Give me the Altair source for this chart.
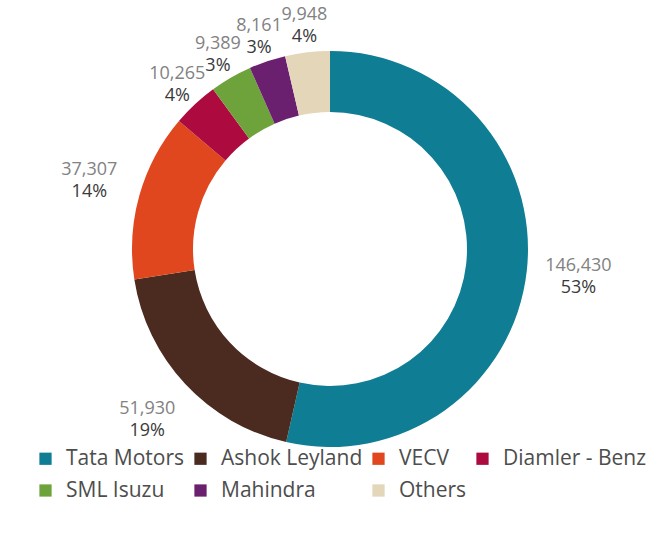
import altair as alt
import pandas as pd

companies = ["Tata Motors", "Ashok Leyland", "VECV", "Diamler - Benz",
             "SML Isuzu", "Mahindra", "Others"]
units = [146430, 51930, 37307, 10265, 9389, 8161, 9948]
share_labels = ["53%", "19%", "14%", "4%", "3%", "3%", "4%"]
colors = ["#0F7D93", "#4B2A20", "#E0471F", "#AD0B40",
          "#6EA33B", "#6A1F6F", "#E3D6B9"]

df = pd.DataFrame({
    "company": companies,
    "units": units,
    "share": share_labels,
    "idx": list(range(len(companies))),
})

color = alt.Color(
    "company:N",
    scale=alt.Scale(domain=companies, range=colors),
    sort=companies,
    legend=alt.Legend(
        title=None, orient="none", legendX=35, legendY=448,
        direction="horizontal", columns=4, symbolType="square",
        symbolSize=150, symbolStrokeWidth=0, labelFont="Open Sans",
        labelFontSize=21, labelColor="#4d4d4d", columnPadding=5,
        rowPadding=10, labelOffset=10, padding=0,
    ),
)

arcs = alt.Chart(df).mark_arc(radius=198, radius2=137).encode(
    theta=alt.Theta("units:Q", stack=True),
    order=alt.Order("idx:Q", sort="ascending"),
    color=color,
)

label_base = alt.Chart(df).transform_window(
    cum="sum(units)", sort=[alt.SortField("idx")], frame=[None, 0]
).transform_joinaggregate(
    total="sum(units)"
).transform_calculate(
    mid="(datum.cum - datum.units / 2) / datum.total * 2 * PI",
    lr="datum.units / datum.total > 0.1 ? 250 : 224",
).encode(
    theta=alt.Theta("mid:Q", scale=None, stack=False),
    radius=alt.Radius("lr:Q", scale=None),
)

values = label_base.mark_text(
    font="Open Sans", fontSize=18, color="#828282", dy=-11
).encode(text=alt.Text("units:Q", format=","))

pct = label_base.mark_text(
    font="Open Sans", fontSize=18, color="#3a3a3a", dy=11
).encode(text=alt.Text("share:N"))

chart = alt.layer(arcs, values, pct).properties(
    width=660, height=498,
    autosize=alt.AutoSizeParams(type="none"),
    padding={"left": 0, "top": 0, "right": 6, "bottom": 36},
    background="white",
).configure_view(strokeWidth=0)

chart.save("out.html", embed_options={"renderer": "svg", "actions": False})
